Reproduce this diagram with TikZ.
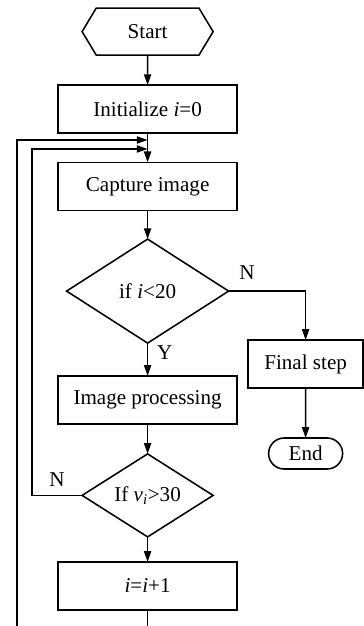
\documentclass[tikz,border=0pt]{standalone}
\usepackage{fontspec}
\setmainfont{Liberation Serif}
\usetikzlibrary{positioning,arrows.meta,shapes.geometric,shapes.symbols,shapes.misc}

\begin{document}
\begin{tikzpicture}[
        every node/.style={font=\fontsize{15}{18}\selectfont,outer sep=0pt},
        process/.style={draw,rectangle,align=center,minimum width=4.475cm,minimum height=1.2cm,inner sep=0pt},
        decision/.style={draw,diamond,inner sep=0pt,align=center},
        terminal/.style={draw,signal,signal to=west and east,signal pointer angle=118,minimum width=3.275cm,minimum height=1.175cm,inner sep=0pt},
        stopbox/.style={draw,rounded rectangle,minimum width=1.85cm,minimum height=0.775cm,inner sep=0pt},
        flow/.style={-{Triangle[length=2.7mm,width=1.8mm]},line width=1.1pt},
        line width=1.1pt,
        node distance=7.5mm]
        \useasboundingbox (0,0) rectangle (9.1,-15.65);
        \clip (0,0) rectangle (9.1,-15.65);
        % main column
        \node[terminal] (start) at (3.69,-0.79) {Start};
        \node[process,below=7.5mm of start] (init) {Initialize \textit{i}=0};
        \node[process,below=7.3mm of init] (capture) {Capture image};
        \node[decision,minimum width=4.05cm,minimum height=2.6cm,below=7.2mm of capture] (check) {if \textit{i}<20};
        \node[process,below=8.2mm of check] (proc) {Image processing};
        \node[decision,minimum width=3.275cm,minimum height=2.075cm,aspect=1.58,below=7.5mm of proc] (speed) {If \textit{v\textsubscript{i}}>30};
        \node[process,below=6.25mm of speed] (incr) {\textit{i}=\textit{i}+1};
        % right branch
        \node[process,minimum width=2.875cm] (final) at (7.64,-9.1) {Final step};
        \node[stopbox,below=12.5mm of final] (stop) {End};
        % loop corners
        \coordinate (outleft) at (0.425,-3.5);
        \coordinate (inleft) at (0.8,-3.725);
        \coordinate (outbottom) at (0.425,-16.2);

        \draw[flow] (start) -- (init);
        \draw[flow] (init) -- (capture);
        \draw[flow] (capture) -- (check);
        \draw[flow] (check) -- node[pos=0.3,right=1.2mm]{Y} (proc);
        \draw[flow] (check.east) -| node[pos=0.12,above=1.8mm]{N} (final);
        \draw[flow] (final) -- (stop);
        \draw[flow] (proc) -- (speed);
        \draw[flow] (speed) -- (incr);
        \draw[flow] (speed.west) -| node[pos=0.25,above=1mm]{N} (inleft) -- (inleft -| init.south);
        \draw[flow] (incr.south) |- (outbottom) -- (outleft) -- (outleft -| init.south);
    \end{tikzpicture}
\end{document}
